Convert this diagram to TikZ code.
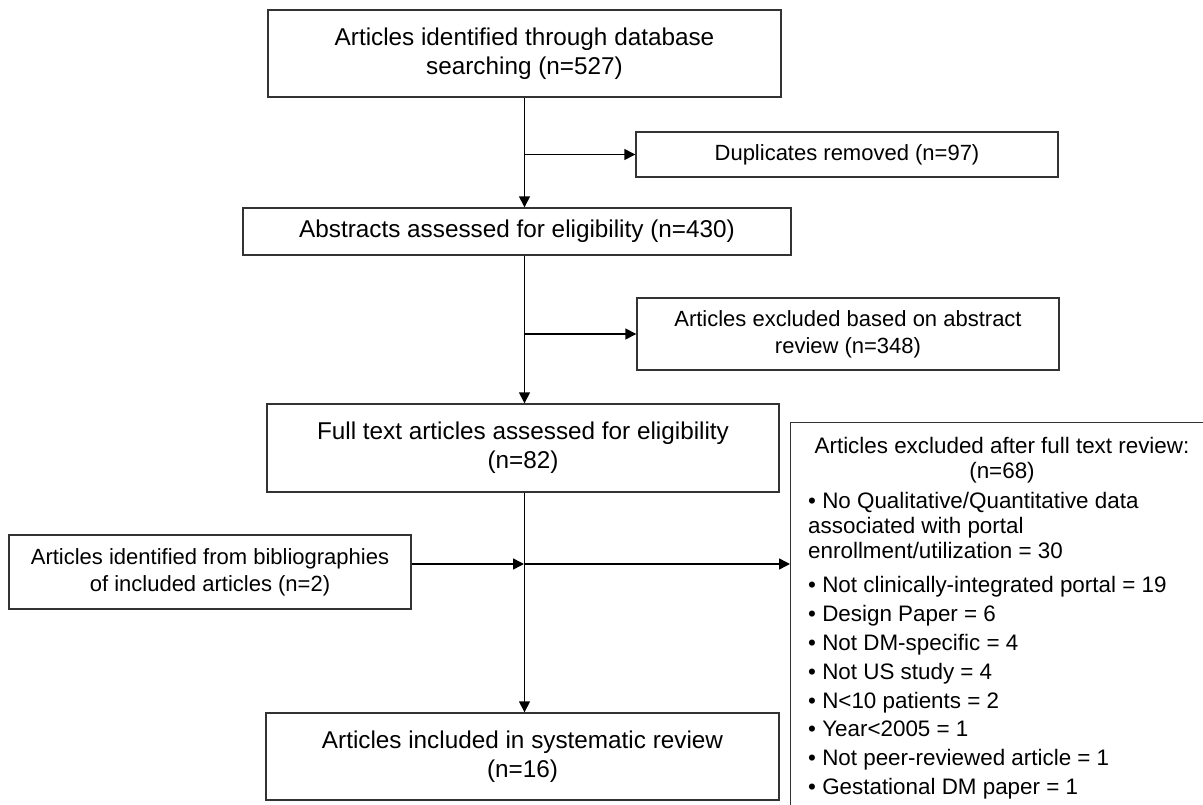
\documentclass[tikz,border=0pt]{standalone}
\usepackage{fontspec}
\setmainfont{Liberation Sans}
\usetikzlibrary{arrows.meta}

\begin{document}
\begin{tikzpicture}[x=1pt,y=-1pt,
  box/.style={draw=black!80,line width=1.4pt,inner sep=0pt,align=center,
    font=\fontsize{24.3}{29}\selectfont},
  side/.style={box,font=\fontsize{22}{27}\selectfont},
  arr/.style={line width=1.5pt,-{Triangle[length=11pt,width=11pt]}}]

\useasboundingbox (0,0) rectangle (1203,805);
\clip (0,0) rectangle (1203,805);

% ---------- main column ----------
\node[box,minimum width=513pt,minimum height=87pt] (srch) at (524.5,53.5)
  {Articles identified through database\\searching (n=527)};
\node[box,minimum width=548pt,minimum height=47pt] (abst) at (517,231.5)
  {Abstracts assessed for eligibility (n=430)};
\node[box,minimum width=512pt,minimum height=88pt] (full) at (523,448)
  {Full text articles assessed for eligibility\\(n=82)};
\node[box,minimum width=513pt,minimum height=87pt] (incl) at (522.5,756.5)
  {Articles included in systematic review\\(n=16)};

% ---------- side boxes ----------
\node[side,minimum width=422pt,minimum height=45pt] (dupl) at (847,154.5)
  {Duplicates removed (n=97)};
\node[side,minimum width=422pt,minimum height=72pt] (excl) at (848,334)
  {Articles excluded based on abstract\\review (n=348)};
\node[side,minimum width=402pt,minimum height=74pt] (bibl) at (210,572)
  {Articles identified from bibliographies\\of included articles (n=2)};

% ---------- full text exclusions (runs off the page) ----------
\node[box,anchor=north west,minimum width=460pt,minimum height=420pt] (fte) at (790,422) {};
\node[align=center,inner sep=0pt,font=\fontsize{22.4}{25}\selectfont] (ftet) at (1002,460)
  {Articles excluded after full text review:\\(n=68)};
\node[anchor=north west,align=left,inner sep=0pt,font=\fontsize{22.4}{25}\selectfont] (crit) at (808,492)
  {• No Qualitative/Quantitative data\\
   associated with portal\\
   enrollment/utilization = 30\\[9pt]
   • Not clinically-integrated portal = 19\\[3.9pt]
   • Design Paper = 6\\[3.9pt]
   • Not DM-specific = 4\\[3.9pt]
   • Not US study = 4\\[3.9pt]
   • N<10 patients = 2\\[3.9pt]
   • Year<2005 = 1\\[3.9pt]
   • Not peer-reviewed article = 1\\[3.9pt]
   • Gestational DM paper = 1};

% ---------- connectors ----------
\coordinate (jn) at (524,564);
\draw[arr] (srch.south) -- (srch.south |- abst.north);
\draw[arr] (srch.south |- dupl.west) -- (dupl.west);
\draw[arr] (srch.south |- abst.south) -- (srch.south |- full.north);
\draw[arr] (srch.south |- excl.west) -- (excl.west);
\draw[arr] (srch.south |- full.south) -- (srch.south |- incl.north);
\draw[arr] (bibl.east |- jn) -- (jn);
\draw[arr] (jn) -- (jn -| fte.west);
\end{tikzpicture}
\end{document}
